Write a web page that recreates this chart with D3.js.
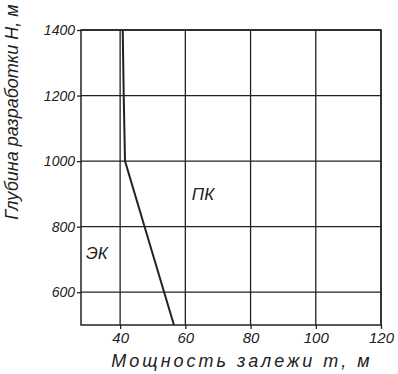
<!DOCTYPE html>
<html>
<head>
<meta charset="utf-8">
<script src="https://cdn.jsdelivr.net/npm/d3@7"></script>
<style>
  body { margin: 0; background: #fff; }
  text { font-family: "Liberation Sans Narrow", "Liberation Sans", "DejaVu Sans", sans-serif; font-style: italic; fill: #222; }
</style>
</head>
<body>
<div class="canva"></div>
<script>
// depth H (m) vs seam thickness m (m) boundary between ЭК and ПК
const depth = [1400, 1200, 1000, 800, 600, 500]
const thickness = [40.8, 41.1, 41.5, 47.5, 53.5, 56.5]

const xTicks = [40, 60, 80, 100, 120]
const yTicks = [600, 800, 1000, 1200, 1400]

const W = 398, H = 374
const ink = "#222"

const x = d3.scaleLinear().domain([28, 120]).range([81, 381])
const y = d3.scaleLinear().domain([500, 1400]).range([325, 30])

const svg = d3.select(".canva").append("svg")
    .attr("width", W)
    .attr("height", H)

// grid
svg.append("g").selectAll("line.v")
    .data(xTicks)
    .enter().append("line")
    .attr("x1", d => x(d)).attr("x2", d => x(d))
    .attr("y1", y(1400)).attr("y2", y(500))
    .attr("stroke", ink).attr("stroke-width", 1.3)

svg.append("g").selectAll("line.h")
    .data(yTicks)
    .enter().append("line")
    .attr("x1", x(28)).attr("x2", x(120))
    .attr("y1", d => y(d)).attr("y2", d => y(d))
    .attr("stroke", ink).attr("stroke-width", 1.3)

// frame
svg.append("rect")
    .attr("x", x(28)).attr("y", y(1400))
    .attr("width", x(120) - x(28)).attr("height", y(500) - y(1400))
    .attr("fill", "none").attr("stroke", ink).attr("stroke-width", 1.5)

// axes
const xAxis = svg.append("g")
    .attr("transform", `translate(0,${y(500)})`)
    .call(d3.axisBottom(x).tickValues(xTicks).tickFormat(d3.format("d")).tickSize(4).tickPadding(3))
const yAxis = svg.append("g")
    .attr("transform", `translate(${x(28)},0)`)
    .call(d3.axisLeft(y).tickValues(yTicks).tickFormat(d3.format("d")).tickSize(4).tickPadding(2))

;[xAxis, yAxis].forEach(g => {
    g.select(".domain").remove()
    g.selectAll(".tick line").attr("stroke", ink).attr("stroke-width", 1.3)
    g.selectAll(".tick text").attr("fill", ink).style("font-size", "14px")
})
xAxis.selectAll(".tick text").attr("dy", "0.75em").style("font-size", "15px")

// boundary curve
const pts = depth.map((d, i) => ({ h: d, m: thickness[i] }))
svg.append("path")
    .datum(pts)
    .attr("fill", "none")
    .attr("stroke", ink)
    .attr("stroke-width", 2)
    .attr("d", d3.line().x(d => x(d.m)).y(d => y(d.h)))

// zone labels
svg.append("text")
    .attr("x", x(29.5)).attr("y", y(700))
    .style("font-size", "17px")
    .text("ЭК")
svg.append("text")
    .attr("x", x(62)).attr("y", y(880))
    .style("font-size", "17px")
    .text("ПК")

// axis titles
svg.append("text")
    .attr("x", 242).attr("y", 367)
    .attr("text-anchor", "middle")
    .style("font-size", "18px")
    .style("letter-spacing", "3px")
    .text("Мощность залежи m, м")

svg.append("text")
    .attr("transform", "translate(18,112) rotate(-90)")
    .attr("text-anchor", "middle")
    .style("font-size", "18px")
    .text("Глубина разработки H, м")
</script>
</body>
</html>
